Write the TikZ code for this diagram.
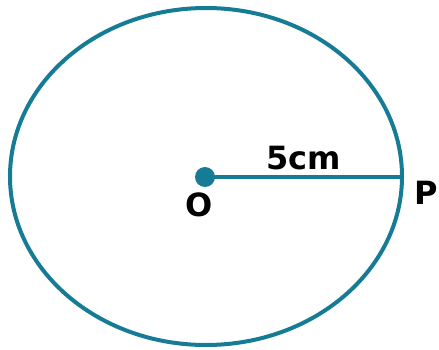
\documentclass[tikz,border=0pt]{standalone}
\usepackage{fontspec}
\setsansfont{DejaVu Sans}
\usetikzlibrary{positioning}
\definecolor{rimteal}{RGB}{22,124,150}

\begin{document}
\begin{tikzpicture}[x=1pt, y=1pt,
  rim/.style={draw=rimteal, line width=4pt},
  dot/.style={circle, fill=rimteal, minimum size=20pt, inner sep=0pt},
  lbl/.style={font=\fontsize{32}{32}\selectfont\sffamily\bfseries, inner sep=0pt}
]
\useasboundingbox (0,0) rectangle (439,349);

% Circle and radius
\draw[rim] (206,172.5) ellipse [x radius=196, y radius=168.5];
\node[dot] (O) at (205,172) {};
\coordinate (P) at (402,172);
\draw[rim] (O.center) -- (P);

% Labels
\node[lbl] (rad) at (304,191) {5cm};
\node[lbl] (Olbl) at (199,144) {O};
\node[lbl] (Plbl) at (426,156) {P};
\end{tikzpicture}
\end{document}
